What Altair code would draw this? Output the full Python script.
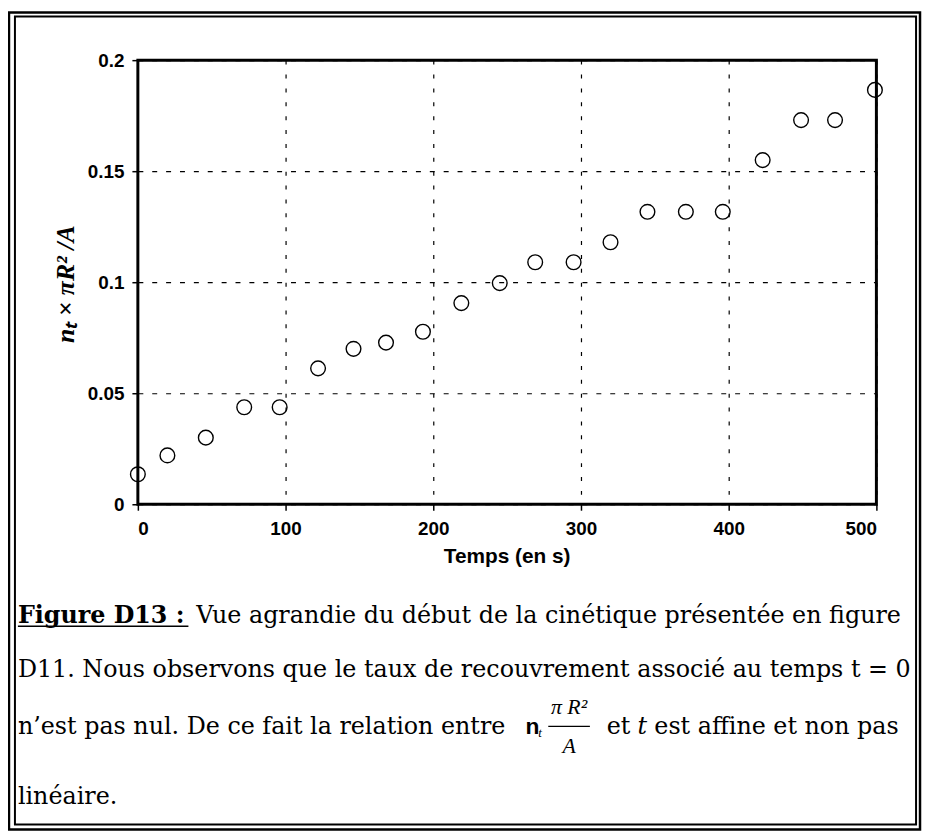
import altair as alt
import pandas as pd

# data
temps = [0, 20, 46, 72, 96, 122, 146, 168, 193, 219, 245, 269, 295, 320, 345, 371, 396, 423, 449, 472, 499]
taux = [0.0135, 0.022, 0.030, 0.0437, 0.0437, 0.0612, 0.070, 0.0728, 0.0777, 0.0906, 0.0996,
        0.109, 0.109, 0.118, 0.1317, 0.1317, 0.1317, 0.155, 0.173, 0.173, 0.1866]
x_ticks = [0, 100, 200, 300, 400, 500]
y_ticks = [0, 0.05, 0.1, 0.15, 0.2]

x_title = "Temps (en s)"
y_title = "nₜ × πR² /A"
cap1_bold = "Figure D13 :"
cap1 = "Vue agrandie du début de la cinétique présentée en figure"
cap2 = "D11. Nous observons que le taux de recouvrement associé au temps t = 0"
cap3a = "n’est pas nul. De ce fait la relation entre"
cap3_n = "n"
cap3_sub = "t"
cap3_num = "π R²"
cap3_den = "A"
cap3_et = "et"
cap3_t = "t"
cap3b = "est affine et non pas"
cap4 = "linéaire."

W, H = 745, 448
df = pd.DataFrame({"t": temps, "v": taux})
one = pd.DataFrame({"k": [0]})

base = alt.Chart(df)

points = base.mark_point(shape="circle", filled=False, size=220, color="black",
                         strokeWidth=1.4, opacity=1, clip=False).encode(
    x=alt.X("t:Q", scale=alt.Scale(domain=[0, 500], nice=False),
            axis=alt.Axis(values=x_ticks, title=None, grid=True, gridDash=[4, 10],
                          gridColor="black", gridWidth=1.2, gridOpacity=1,
                          domain=False, ticks=True, tickColor="black", tickSize=6,
                          tickWidth=1.5, labelFont="Liberation Sans", labelFontWeight="bold",
                          labelFontSize=19, labelColor="black", labelPadding=9)),
    y=alt.Y("v:Q", scale=alt.Scale(domain=[0, 0.2], nice=False, zero=True),
            axis=alt.Axis(values=y_ticks, title=None, grid=True, gridDash=[5, 9],
                          gridColor="black", gridWidth=1.2, gridOpacity=1,
                          domain=False, ticks=True, tickColor="black", tickSize=6,
                          tickWidth=1.5, labelFont="Liberation Sans", labelFontWeight="bold",
                          labelFontSize=19, labelColor="black", labelPadding=8,
                          labelExpr="datum.value == 0 ? '0' : format(datum.value, '.2~f')")),
)

def txt(s, x, y, size=24, font="DejaVu Serif", weight="normal", style="normal",
        align="left", baseline="alphabetic", angle=0):
    kw = dict(text=s, fontSize=size, font=font, fontWeight=weight, fontStyle=style,
              align=align, baseline=baseline, color="black")
    if angle:
        kw["angle"] = angle
    return alt.Chart(one).mark_text(**kw).encode(x=alt.value(x), y=alt.value(y))

def rect(x1, y1, x2, y2, sw):
    return alt.Chart(one).mark_rect(filled=False, stroke="black", strokeWidth=sw).encode(
        x=alt.value(x1), x2=alt.value(x2), y=alt.value(y1), y2=alt.value(y2))

def hline(x1, x2, y, sw):
    return alt.Chart(one).mark_rule(color="black", strokeWidth=sw).encode(
        x=alt.value(x1), x2=alt.value(x2), y=alt.value(y))

L = -121   # left edge of caption text (relative to plot origin)
b1, b2, b3, b4 = 568, 622, 680, 750

layers = [
    rect(-130, -48, 789, 776, 2.5),
    rect(-124, -44, 785, 771, 2),
    points,
    txt(x_title, W / 2, 501, size=21, font="Liberation Sans", weight="bold", baseline="middle", align="center"),
    txt(y_title, -72, 226, size=26, font="Liberation Serif", weight="bold", style="italic",
        align="center", baseline="middle", angle=270),
    txt(cap1_bold, L, b1, weight="bold"),
    hline(L, L + 172, b1 + 3, 1.5),
    txt(cap1, 59, b1),
    txt(cap2, L, b2),
    txt(cap3a, L, b3),
    txt(cap3_n, 391, b3, size=23, font="Liberation Sans", weight="bold"),
    txt(cap3_sub, 404, b3 + 3, size=13, font="Liberation Serif", style="italic"),
    txt(cap3_num, 435, b3 - 20, size=22, font="Liberation Serif", style="italic", align="center"),
    hline(414, 456, b3 - 8, 1.3),
    txt(cap3_den, 435, b3 + 19, size=22, font="Liberation Serif", style="italic", align="center"),
    txt(cap3_et, 473, b3),
    txt(cap3_t, 504, b3, style="italic"),
    txt(cap3b, 521, b3),
    txt(cap4, L, b4),
]

chart = alt.layer(*layers).properties(
    width=W, height=H,
    padding={"left": 131, "top": 49, "right": 46, "bottom": 329},
    autosize=alt.AutoSizeParams(type="none"),
    background="white",
).configure_view(stroke="black", strokeWidth=3)

chart.save("out.html", embed_options={"renderer": "svg", "actions": False})
